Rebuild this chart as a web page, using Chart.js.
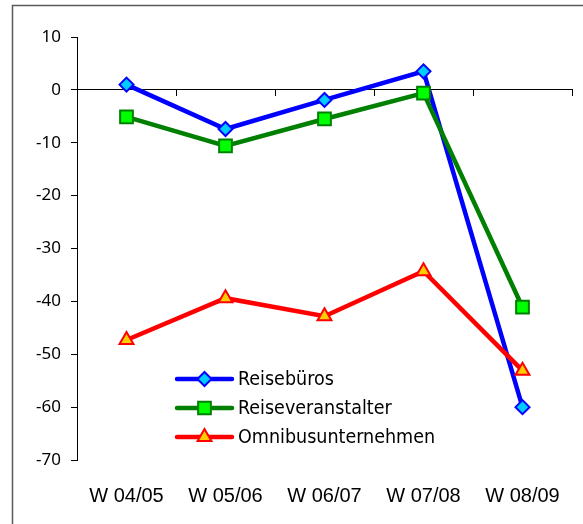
<!DOCTYPE html>
<html>
<head>
<meta charset="utf-8">
<script src="https://cdn.jsdelivr.net/npm/chart.js@4/dist/chart.umd.min.js"></script>
<style>
  html, body { margin: 0; padding: 0; background: #fff; }
  #wrap { width: 583px; height: 524px; }
</style>
</head>
<body>
<div id="wrap"><canvas id="lineChart" width="583" height="524"></canvas></div>
<script>
const seasons = ['W 04/05', 'W 05/06', 'W 06/07', 'W 07/08', 'W 08/09'];
const reisebueros = [1, -7.4, -1.9, 3.5, -60];
const reiseveranstalter = [-5.1, -10.6, -5.5, -0.6, -41.1];
const omnibus = [-47.3, -39.4, -42.8, -34.3, -53.1];
const yTicks = [10, 0, -10, -20, -30, -40, -50, -60, -70];

const FONT = "'Noto Sans', sans-serif";
const XFONT = "'Liberation Sans', Arial, sans-serif";
const LFONT = "'DejaVu Sans Condensed', 'DejaVu Sans', sans-serif";

// outer frame like the spreadsheet chart object
const framePlugin = {
    id: 'frame',
    beforeDraw(chart) {
        const c = chart.ctx;
        c.save();
        c.fillStyle = '#fff';
        c.fillRect(0, 0, chart.width, chart.height);
        c.strokeStyle = '#5a5a5a';
        c.lineWidth = 1.5;
        c.strokeRect(12.5, 5.5, chart.width + 10, chart.height + 10);
        c.restore();
    }
};

// legend drawn inside the plot, lines with markers
const innerLegend = {
    id: 'innerLegend',
    afterDraw(chart) {
        const c = chart.ctx;
        const x0 = 177, y0 = 379, gap = 29, len = 55;
        c.save();
        chart.data.datasets.forEach((ds, i) => {
            const y = y0 + i * gap;
            c.strokeStyle = ds.borderColor;
            c.lineWidth = ds.borderWidth;
            c.lineCap = 'round';
            c.beginPath();
            c.moveTo(x0, y);
            c.lineTo(x0 + len, y);
            c.stroke();
            c.fillStyle = ds.pointBackgroundColor;
            c.strokeStyle = ds.pointBorderColor;
            c.lineWidth = ds.pointBorderWidth;
            Chart.helpers.drawPoint(c, {
                pointStyle: ds.pointStyle,
                radius: ds.pointRadius,
                borderWidth: ds.pointBorderWidth,
                rotation: 0
            }, x0 + len / 2, y);
            c.fillStyle = '#000';
            c.font = '19.5px ' + LFONT;
            c.textBaseline = 'middle';
            c.fillText(ds.label, x0 + len + 6, y + 1);
        });
        c.restore();
    }
};

const ctx = document.getElementById('lineChart').getContext('2d');
const chart = new Chart(ctx, {
    type: 'line',
    data: {
        labels: seasons,
        datasets: [
            {
                label: 'Reisebüros',
                data: reisebueros,
                borderColor: '#0000ff',
                borderWidth: 4.5,
                pointStyle: 'rectRot',
                pointRadius: 7,
                pointBackgroundColor: '#00ccff',
                pointBorderColor: '#0000ff',
                pointBorderWidth: 2,
                order: 3,
                clip: false
            },
            {
                label: 'Reiseveranstalter',
                data: reiseveranstalter,
                borderColor: '#008000',
                borderWidth: 4.5,
                pointStyle: 'rect',
                pointRadius: 9,
                pointBackgroundColor: '#00ff00',
                pointBorderColor: '#008000',
                pointBorderWidth: 2,
                order: 2,
                clip: false
            },
            {
                label: 'Omnibusunternehmen',
                data: omnibus,
                borderColor: '#ff0000',
                borderWidth: 4.5,
                pointStyle: 'triangle',
                pointRadius: 8,
                pointBackgroundColor: '#ffcc00',
                pointBorderColor: '#ff0000',
                pointBorderWidth: 2,
                order: 1,
                clip: false
            }
        ]
    },
    options: {
        responsive: false,
        animation: false,
        events: [],
        layout: { padding: { left: 13, top: 37, right: 11, bottom: 0 } },
        plugins: {
            legend: { display: false },
            tooltip: { enabled: false }
        },
        scales: {
            x: {
                type: 'category',
                offset: true,
                grid: { display: false },
                border: { display: false },
                ticks: { color: '#000', font: { family: XFONT, size: 20 }, padding: 16, maxRotation: 0 },
                afterFit: (s) => { s.height = 64; }
            },
            xZero: {
                type: 'category',
                position: { y: 0 },
                offset: true,
                grid: { offset: true, drawOnChartArea: false, tickLength: 6, color: '#000', lineWidth: 1 },
                border: { display: true, color: '#000', width: 1 },
                ticks: { display: false }
            },
            y: {
                min: -70,
                max: 10,
                afterBuildTicks: (s) => { s.ticks = yTicks.map(v => ({ value: v })); },
                grid: { drawOnChartArea: false, tickLength: 6, color: '#000', lineWidth: 1 },
                border: { display: true, color: '#000', width: 1 },
                ticks: { color: '#000', font: { family: FONT, size: 17 }, padding: 10 },
                afterFit: (s) => { s.width = 64; }
            }
        }
    },
    plugins: [framePlugin, innerLegend]
});
</script>
</body>
</html>
